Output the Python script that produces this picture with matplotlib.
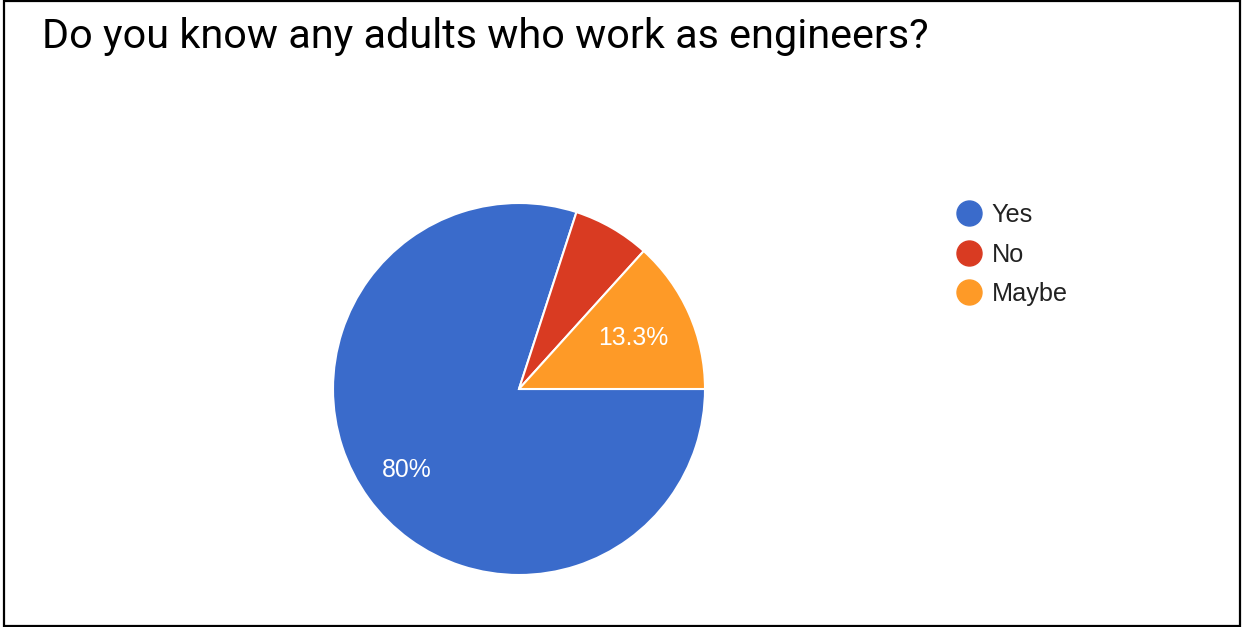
import numpy as np
import matplotlib
matplotlib.use("Agg")
import matplotlib.pyplot as plt
from matplotlib.lines import Line2D
from matplotlib.patches import Rectangle

# Survey responses
categories = ["Yes", "No", "Maybe"]
shares = [80.0, 6.7, 13.3]
slice_labels = ["80%", "", "13.3%"]
colors = ["#3A6BCB", "#D93B22", "#FE9A27"]
title = "Do you know any adults who work as engineers?"

W, H, DPI = 1242, 627, 100
fig = plt.figure(figsize=(W / DPI, H / DPI), dpi=DPI)
fig.patch.set_facecolor("white")

# Pie axes: centre (519, 389) px, radius 186 px
cx, cy, r = 519, 389, 186
ax = fig.add_axes([(cx - r) / W, (H - cy - r) / H, 2 * r / W, 2 * r / H])
wedges, _ = ax.pie(
    shares, colors=colors, startangle=0, counterclock=False, radius=1.0,
    wedgeprops=dict(edgecolor="white", linewidth=1.5),
)
ax.set_xlim(-1, 1)
ax.set_ylim(-1, 1)
ax.set_aspect("equal")
ax.axis("off")

# Percentage labels inside slices
label_dist = [0.745, 0.7, 0.67]
for w, lab, d in zip(wedges, slice_labels, label_dist):
    if not lab:
        continue
    mid = np.deg2rad((w.theta1 + w.theta2) / 2)
    ax.text(d * np.cos(mid), d * np.sin(mid), lab, ha="center", va="center",
            color="white", fontsize=17.8, family="Liberation Sans")

# Title
fig.text(42 / W, 1 - 48 / H, title, ha="left", va="baseline",
         fontsize=29.8, family="Roboto", color="#000000")

# Legend
handles = [Line2D([], [], marker="o", linestyle="", markersize=18,
                  markerfacecolor=c, markeredgecolor=c) for c in colors]
leg = fig.legend(handles, categories, loc="center left",
                 bbox_to_anchor=(956 / W, 1 - 254.5 / H), frameon=False,
                 prop=dict(family="Liberation Sans", size=18.2),
                 handlelength=1.0, handletextpad=0.42, labelspacing=0.6,
                 borderpad=0, borderaxespad=0)
for t in leg.get_texts():
    t.set_color("#222222")

# Outer frame
fig.patches.append(Rectangle((4 / W, 1 / H), 1236 / W, 625 / H,
                             transform=fig.transFigure, fill=False,
                             edgecolor="black", linewidth=1.6))

fig.savefig("out.png", dpi=DPI, facecolor="white")
